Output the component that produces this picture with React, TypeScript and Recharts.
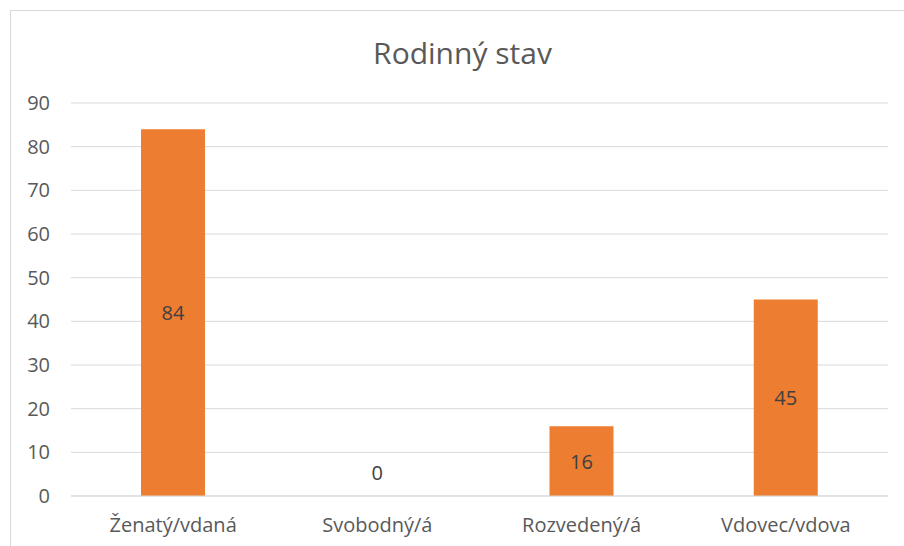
import { BarChart, Bar, XAxis, YAxis, CartesianGrid, LabelList } from 'recharts';

const categories = ['Ženatý/vdaná', 'Svobodný/á', 'Rozvedený/á', 'Vdovec/vdova'];
const counts = [84, 0, 16, 45];
const yTicks = [0, 10, 20, 30, 40, 50, 60, 70, 80, 90];

const data = categories.map((name, i) => ({ name, value: counts[i] }));

const FONT = '"Open Sans", sans-serif';

// label in middle of bar; zero bars get their label lifted above the baseline
const renderLabel = (props: any) => {
  const { x, y, width, height, value } = props;
  const cx = Number(x) + Number(width) / 2;
  const h = Number(height) || 0;
  const cy = Number(value) === 0 ? Number(y) + h - 24 : Number(y) + h / 2;
  return (
    <text
      x={cx}
      y={cy}
      textAnchor="middle"
      dominantBaseline="central"
      fill="#404040"
      fontSize={20}
      fontFamily={FONT}
    >
      {value}
    </text>
  );
};

export default function App() {
  return (
    <div
      style={{
        position: 'absolute',
        left: 0,
        top: 0,
        width: 904,
        height: 546,
        overflow: 'hidden',
        background: '#fff',
        fontFamily: FONT,
      }}
    >
      <div
        style={{
          position: 'absolute',
          left: 10,
          top: 10,
          width: 1000,
          height: 1000,
          border: '1px solid #d9d9d9',
        }}
      />
      <div
        style={{
          position: 'absolute',
          left: 0,
          top: 32,
          width: 925,
          textAlign: 'center',
          fontSize: 30,
          color: '#595959',
        }}
      >
        Rodinný stav
      </div>
      <div style={{ position: 'absolute', left: 0, top: 0 }}>
        <BarChart
          width={904}
          height={546}
          data={data}
          margin={{ top: 103, right: 16, bottom: 0, left: 0 }}
          barCategoryGap="34%"
        >
          <CartesianGrid vertical={false} stroke="#d9d9d9" />
          <XAxis
            dataKey="name"
            height={50}
            tickLine={false}
            tickSize={0}
            tickMargin={22}
            axisLine={{ stroke: '#d9d9d9' }}
            tick={{ fill: '#595959', fontSize: 20, fontFamily: FONT }}
          />
          <YAxis
            width={71}
            domain={[0, 90]}
            ticks={yTicks}
            axisLine={false}
            tickLine={false}
            tickSize={0}
            tickMargin={21}
            tick={{ fill: '#595959', fontSize: 20, fontFamily: FONT }}
          />
          <Bar
            dataKey="value"
            fill="#ed7d31"
            barSize={64}
            minPointSize={0.001}
            isAnimationActive={false}
          >
            <LabelList dataKey="value" content={renderLabel} />
          </Bar>
        </BarChart>
      </div>
    </div>
  );
}
